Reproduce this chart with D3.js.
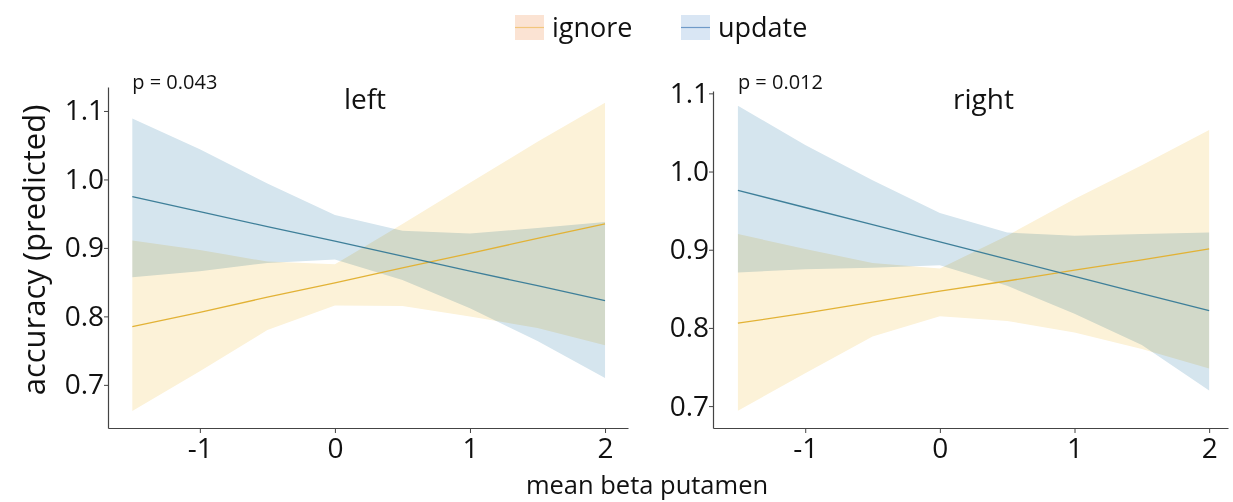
<!DOCTYPE html>
<html>
<head>
<meta charset="UTF-8" />
<title>accuracy by beta putamen</title>
<script src="https://d3js.org/d3.v7.min.js"></script>
<style>
  body { margin: 0; background: #fff; }
  svg text { font-family: "Open Sans", sans-serif; fill: #111; }
  .band { mix-blend-mode: multiply; }
</style>
</head>
<body>
<div id="main"></div>
<script>
// values
var xs = [-1.5, -1, -0.5, 0, 0.5, 1, 1.5, 2];
var xTicks = [-1, 0, 1, 2];
var yTicks = [0.7, 0.8, 0.9, 1.0, 1.1];
var groups = ['ignore', 'update'];

var leftUpdFit = [0.975, 0.953, 0.931, 0.910, 0.888, 0.866, 0.845, 0.823];
var leftUpdLo  = [0.857, 0.866, 0.878, 0.883, 0.853, 0.812, 0.764, 0.710];
var leftUpdHi  = [1.089, 1.044, 0.994, 0.948, 0.925, 0.921, 0.929, 0.938];
var leftIgnFit = [0.785, 0.806, 0.828, 0.849, 0.871, 0.892, 0.914, 0.935];
var leftIgnLo  = [0.662, 0.720, 0.780, 0.816, 0.815, 0.800, 0.783, 0.758];
var leftIgnHi  = [0.911, 0.897, 0.880, 0.876, 0.935, 0.995, 1.055, 1.112];

var rightUpdFit = [0.976, 0.954, 0.932, 0.910, 0.888, 0.866, 0.844, 0.822];
var rightUpdLo  = [0.871, 0.875, 0.877, 0.880, 0.854, 0.818, 0.778, 0.720];
var rightUpdHi  = [1.084, 1.034, 0.989, 0.947, 0.922, 0.918, 0.920, 0.922];
var rightIgnFit = [0.806, 0.819, 0.833, 0.847, 0.860, 0.874, 0.887, 0.901];
var rightIgnLo  = [0.694, 0.742, 0.789, 0.815, 0.809, 0.794, 0.773, 0.748];
var rightIgnHi  = [0.920, 0.901, 0.883, 0.876, 0.918, 0.965, 1.008, 1.053];

var width = 1233, height = 502;

var col = {
  ignore: { band: '#fcf2d8', line: '#e2b235', key: '#fbe3d3', keyLine: '#f2c67c' },
  update: { band: '#d5e5ee', line: '#3e7f99', key: '#d9e6f4', keyLine: '#6f9ac8' }
};

var svg = d3.select('#main').append('svg')
  .attr('width', width).attr('height', height);

// legend
var legX = [515, 681];
groups.forEach(function (g, i) {
  var lg = svg.append('g').attr('transform', 'translate(' + legX[i] + ',15)');
  lg.append('rect').attr('width', 29).attr('height', 25).attr('fill', col[g].key);
  lg.append('line').attr('x1', 0).attr('x2', 29).attr('y1', 12.5).attr('y2', 12.5)
    .attr('stroke', col[g].keyLine).attr('stroke-width', 1.2);
  lg.append('text').attr('x', 37).attr('y', 22).attr('font-size', 27).text(g);
});

var panels = [
  { name: 'left', p: 'p = 0.043', x0: 108, x1: 628, top: 87, bottom: 428,
    xDom: [-1.68, 2.17], yDom: [0.637, 1.135],
    upd: [leftUpdFit, leftUpdLo, leftUpdHi], ign: [leftIgnFit, leftIgnLo, leftIgnHi] },
  { name: 'right', p: 'p = 0.012', x0: 713, x1: 1228, top: 91, bottom: 428,
    xDom: [-1.685, 2.14], yDom: [0.672, 1.103],
    upd: [rightUpdFit, rightUpdLo, rightUpdHi], ign: [rightIgnFit, rightIgnLo, rightIgnHi] }
];

panels.forEach(function (pn) {
  var x = d3.scaleLinear().domain(pn.xDom).range([pn.x0, pn.x1]);
  var y = d3.scaleLinear().domain(pn.yDom).range([pn.bottom, pn.top]);
  var g = svg.append('g');

  var area = d3.area()
    .x(function (d, i) { return x(xs[i]); })
    .y0(function (d, i) { return y(d[0]); })
    .y1(function (d, i) { return y(d[1]); });
  var line = d3.line()
    .x(function (d, i) { return x(xs[i]); })
    .y(function (d) { return y(d); });

  [['update', pn.upd], ['ignore', pn.ign]].forEach(function (s) {
    var band = s[1][1].map(function (lo, i) { return [lo, s[1][2][i]]; });
    g.append('path').attr('class', 'band').attr('d', area(band))
      .attr('fill', col[s[0]].band);
  });
  [['ignore', pn.ign], ['update', pn.upd]].forEach(function (s) {
    g.append('path').attr('d', line(s[1][0])).attr('fill', 'none')
      .attr('stroke', col[s[0]].line).attr('stroke-width', 1.3);
  });

  var xAxis = g.append('g').attr('transform', 'translate(0,' + pn.bottom + ')')
    .call(d3.axisBottom(x).tickValues(xTicks).tickSize(5).tickSizeOuter(0)
      .tickFormat(function (d) { return String(d); }));
  var yAxis = g.append('g').attr('transform', 'translate(' + pn.x0 + ',0)')
    .call(d3.axisLeft(y).tickValues(yTicks).tickSize(4).tickSizeOuter(0)
      .tickFormat(function (d) { return d.toFixed(1); }));
  [xAxis, yAxis].forEach(function (a) {
    a.select('.domain').attr('stroke', '#444').attr('stroke-width', 1.2);
    a.selectAll('.tick line').attr('stroke', '#444');
    a.selectAll('.tick text').attr('font-size', 28).attr('font-family', '"Open Sans", sans-serif')
      .attr('fill', '#111');
  });
  xAxis.selectAll('.tick text').attr('dy', '0.8em');
  yAxis.selectAll('.tick text').attr('x', -4);

  g.append('text').attr('x', x(-1.5)).attr('y', 89).attr('font-size', 20).text(pn.p);
  g.append('text').attr('x', (pn.x0 + pn.x1) / 2 + (pn.name === 'left' ? -3 : 13)).attr('y', 109)
    .attr('text-anchor', 'middle').attr('font-size', 28).text(pn.name);
});

svg.append('text').attr('transform', 'translate(45,250) rotate(-90)')
  .attr('text-anchor', 'middle').attr('font-size', 31).text('accuracy (predicted)');
svg.append('text').attr('x', 647).attr('y', 494)
  .attr('text-anchor', 'middle').attr('font-size', 25.5).text('mean beta putamen');
</script>
</body>
</html>
